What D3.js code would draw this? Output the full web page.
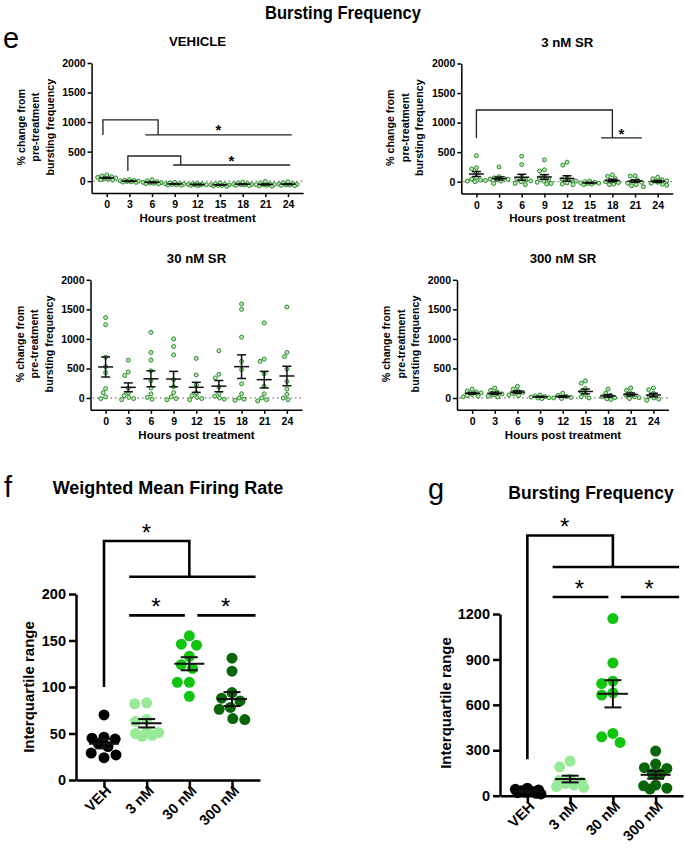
<!DOCTYPE html>
<html><head><meta charset="utf-8">
<script src="https://cdn.jsdelivr.net/npm/d3@7"></script>
<style>
body{margin:0;background:#fff;}
svg{display:block;font-family:"Liberation Sans",Arial,sans-serif;}
</style></head>
<body>
<svg id="c" width="685" height="850"></svg>
<script>
// ---------- DATA ----------
const hours = [0, 3, 6, 9, 12, 15, 18, 21, 24];
const hourTicks = [0, 3, 6, 9, 12, 15, 18, 21, 24];
const eTicks = [0, 500, 1000, 1500, 2000];

const vehPts = [
  [105, 90, 75, 65, 55, 45, 35, 25, 20],
  [25, 15, 10, 5, 0, -5, -10, -15, -20],
  [25, 5, -10, -20, -25, -30, -35, -40, -45],
  [-20, -30, -40, -45, -50, -55, -60, -65, -70],
  [-35, -45, -50, -55, -60, -60, -65, -70, -75],
  [-30, -45, -55, -60, -65, -70, -75, -80, -85],
  [-15, -30, -40, -50, -55, -60, -65, -70, -75],
  [-5, -30, -45, -55, -60, -65, -70, -80, -85],
  [-10, -30, -40, -50, -55, -60, -65, -70, -75]
];
const vehMean = [55, 0, -20, -48, -57, -63, -51, -55, -51];
const vehSem = [9, 5, 7, 5, 4, 5, 6, 8, 6];

const sr3Pts = [
  [440, 235, 215, 150, 70, 45, 30, 20, 10, 0],
  [250, 85, 65, 55, 45, 40, 30, 10, -30],
  [430, 290, 80, 45, 30, 15, 0, -30, -50],
  [370, 200, 180, 90, 60, 40, 10, -10, -30, -40],
  [330, 280, 60, 40, 20, 10, -20, -40, -50],
  [10, 0, -10, -20, -25, -30, -40, -50],
  [115, 90, 50, 20, 0, -15, -40, -50],
  [100, 95, 30, 10, -10, -25, -50, -70, -85],
  [75, 50, 35, 15, -10, -25, -45, -60]
];
const sr3Mean = [130, 55, 75, 80, 55, -20, 20, 10, 5];
const sr3Sem = [42, 25, 50, 40, 45, 8, 20, 20, 18];

const sr30Pts = [
  [1360, 1240, 690, 530, 430, 160, 90, 20, -10],
  [640, 440, 380, 170, 90, 40, 10, -10, -30],
  [1110, 770, 640, 460, 290, 170, 70, 10, -20],
  [1000, 870, 730, 310, 190, 90, 20, -10, -30],
  [670, 390, 220, 90, 40, 10, -10, -30],
  [800, 400, 340, 190, 80, 30, 0, -20],
  [1590, 1500, 1030, 620, 480, 240, 70, 0, -20, -40],
  [1270, 660, 620, 410, 200, 70, 0, -30, -50],
  [1540, 770, 700, 490, 280, 150, 60, 0, -30]
];
const sr30Mean = [525, 180, 325, 320, 180, 200, 530, 310, 372];
const sr30Sem = [170, 75, 135, 130, 85, 95, 200, 140, 165];

const sr300Pts = [
  [150, 120, 100, 85, 60, 40, 30, 20],
  [170, 130, 100, 70, 50, 30, 20],
  [200, 150, 120, 95, 70, 50, 40],
  [50, 35, 25, 15, 5, 0, -10],
  [80, 45, 25, 10, 0, -10],
  [290, 250, 160, 110, 60, 20, 0],
  [150, 80, 45, 20, 5, -15, -25],
  [170, 130, 80, 45, 20, 5, -10],
  [170, 140, 80, 30, 0, -20, -40]
];
const sr300Mean = [80, 80, 100, 20, 25, 110, 35, 60, 50];
const sr300Sem = [15, 20, 20, 8, 13, 40, 22, 25, 30];

const groups = ["VEH", "3 nM", "30 nM", "300 nM"];
const groupColors = ["#000000", "#97ea97", "#10c410", "#0a650a"];

const wmfrTicks = [0, 50, 100, 150, 200];
const wmfrPts = [
  [70, 46, 45, 44, 39, 36, 29, 27, 24],
  [83, 82, 65, 63, 52, 51, 50, 48, 47],
  [155, 146, 145, 133, 124, 120, 105, 105, 90],
  [131, 117, 94, 88, 85, 78, 76, 66, 65]
];
const wmfrMean = [39, 61, 125, 87];
const wmfrSem = [5, 4.5, 7, 7.5];

const bfTicks = [0, 300, 600, 900, 1200];
const bfPts = [
  [50, 42, 38, 33, 28, 24, 20, 16, 12],
  [229, 191, 110, 100, 90, 80, 70, 60, 55],
  [1170, 877, 756, 741, 679, 665, 411, 389, 352],
  [295, 209, 185, 180, 145, 145, 70, 65, 50, 44]
];
const bfMean = [28, 110, 673, 138];
const bfSem = [4, 22, 90, 26];

// ---------- HELPERS ----------
const svg = d3.select("#c");

function swarm(vals, cx, y, r, step, maxOff) {
  const pts = vals.map(v => ({v: v, y: y(v)})).sort((a, b) => a.y - b.y);
  const placed = [];
  const nSteps = Math.floor(maxOff / step);
  for (const p of pts) {
    let best = 0, bestD = -1;
    for (let k = 0; k <= 2 * nSteps; k++) {
      const o = (k % 2 === 0 ? 1 : -1) * Math.ceil(k / 2) * step;
      let dmin = Infinity;
      placed.forEach(q => { dmin = Math.min(dmin, Math.hypot(q.x - (cx + o), q.y - p.y)); });
      if (dmin >= 2 * r + 0.3) { best = o; bestD = Infinity; break; }
      if (dmin > bestD + 0.01) { bestD = dmin; best = o; }
    }
    p.x = cx + best;
    placed.push(p);
  }
  return placed;
}

function starText(g, x, yc, fs, weight) {
  g.append("text").attr("x", x).attr("y", yc + 0.58 * fs)
    .attr("text-anchor", "middle").attr("font-size", fs)
    .attr("font-weight", weight || "normal").text("*");
}

// ---------- TITLES ----------
svg.append("text").attr("x", 343).attr("y", 19).attr("text-anchor", "middle")
  .attr("font-size", 19).attr("font-weight", "bold")
  .attr("textLength", 156).attr("lengthAdjust", "spacingAndGlyphs")
  .text("Bursting Frequency");
svg.append("text").attr("x", 3).attr("y", 48).attr("font-size", 29).text("e");
svg.append("text").attr("x", 4).attr("y", 497).attr("font-size", 29).text("f");
svg.append("text").attr("x", 428).attr("y", 499).attr("font-size", 29).text("g");

// ---------- PANEL E ----------
function panelE(cfg) {
  const g = svg.append("g");
  const x = d3.scaleLinear().domain([-2, 26]).range([cfg.ax, cfg.ax + 211.5]);
  const y = d3.scaleLinear().domain([-200, 2000]).range([cfg.zeroY + 11.8, cfg.zeroY - 118.2]);

  const ya = g.append("g").attr("transform", `translate(${cfg.ax},0)`)
    .call(d3.axisLeft(y).tickValues(eTicks).tickFormat(d3.format("d")).tickSize(4).tickSizeOuter(0).tickPadding(2));
  const xa = g.append("g").attr("transform", `translate(0,${y(-200)})`)
    .call(d3.axisBottom(x).tickValues(hourTicks).tickFormat(d3.format("d")).tickSize(4).tickSizeOuter(0).tickPadding(4));
  [ya, xa].forEach(a => {
    a.selectAll("path,line").attr("stroke", "#000").attr("stroke-width", 1.5);
    a.selectAll("text").attr("font-size", 10.5).attr("font-weight", "bold")
      .attr("fill", "#000").attr("font-family", "Liberation Sans, Arial, sans-serif");
  });

  // zero dotted line
  g.append("line").attr("x1", cfg.ax + 2).attr("x2", cfg.ax + 211).attr("y1", y(0)).attr("y2", y(0))
    .attr("stroke", "#555").attr("stroke-width", 1).attr("stroke-dasharray", "1.5,3");

  g.append("text").attr("x", cfg.ax + 106).attr("y", cfg.zeroY - 135)
    .attr("text-anchor", "middle").attr("font-size", 13.2).attr("font-weight", "bold").text(cfg.title);
  g.append("text").attr("x", cfg.ax + 106).attr("y", cfg.zeroY + 40.5)
    .attr("text-anchor", "middle").attr("font-size", 11.5).attr("font-weight", "bold").text("Hours post treatment");
  const ylab = ["% change from", "pre-treatment", "bursting frequency"];
  ylab.forEach((t, i) => {
    g.append("text").attr("transform", `translate(${cfg.ax - 67 + i * 14.5},${cfg.zeroY - 54}) rotate(-90)`)
      .attr("text-anchor", "middle").attr("font-size", 10.7).attr("font-weight", "bold").text(t);
  });

  hours.forEach((h, i) => {
    const pts = swarm(cfg.pts[i], x(h), y, 2.2, 0.6, 9);
    g.selectAll(null).data(pts).enter().append("circle")
      .attr("cx", d => d.x).attr("cy", d => d.y).attr("r", 2)
      .attr("fill", "#b9e6b4").attr("stroke", "#2e8b2e").attr("stroke-width", 1);
  });
  hours.forEach((h, i) => {
    const cx = x(h), m = cfg.mean[i], s = cfg.sem[i];
    const eb = g.append("g").attr("stroke", "#111").attr("stroke-width", 1.5);
    eb.append("line").attr("x1", cx - 7.5).attr("x2", cx + 7.5).attr("y1", y(m)).attr("y2", y(m));
    eb.append("line").attr("x1", cx).attr("x2", cx).attr("y1", y(m - s)).attr("y2", y(m + s));
    [m - s, m + s].forEach(v => eb.append("line").attr("x1", cx - 4.5).attr("x2", cx + 4.5).attr("y1", y(v)).attr("y2", y(v)));
  });

  (cfg.brackets || []).forEach(b => {
    const path = d3.path();
    path.moveTo(x(b[0]), y(b[2])); path.lineTo(x(b[0]), y(b[3]));
    path.lineTo(x(b[1]), y(b[3])); path.lineTo(x(b[1]), y(b[4]));
    path.moveTo(x(b[5]), y(b[4])); path.lineTo(x(b[6]), y(b[4]));
    g.append("path").attr("d", path.toString()).attr("fill", "none").attr("stroke", "#222").attr("stroke-width", 1.3);
    starText(g, x(b[7]), y(b[8]), 15, "bold");
  });
}

panelE({title: "VEHICLE", ax: 91.6, zeroY: 181.2, pts: vehPts, mean: vehMean, sem: vehSem,
  brackets: [[-0.5, 6.8, 782, 1036, 782, 5.1, 24.5, 14.8, 930],
             [2.8, 9.8, 173, 426, 274, 8.8, 24.3, 16.5, 410]]});
panelE({title: "3 nM SR", ax: 461.3, zeroY: 181.7, pts: sr3Pts, mean: sr3Mean, sem: sr3Sem,
  brackets: [[0, 18, 740, 1213, 740, 16.5, 21.9, 19.2, 875]]});
panelE({title: "30 nM SR", ax: 90.5, zeroY: 398, pts: sr30Pts, mean: sr30Mean, sem: sr30Sem});
panelE({title: "300 nM SR", ax: 457, zeroY: 398, pts: sr300Pts, mean: sr300Mean, sem: sr300Sem});

// ---------- PANELS F / G ----------
function panelFG(cfg) {
  const g = svg.append("g");
  const x = d3.scalePoint().domain(groups).range([cfg.ax, cfg.ax2]).padding(cfg.pad);
  const y = d3.scaleLinear().domain([0, cfg.max]).range([cfg.y0, cfg.yTop]);

  const ya = g.append("g").attr("transform", `translate(${cfg.ax},0)`)
    .call(d3.axisLeft(y).tickValues(cfg.ticks).tickFormat(d3.format("d")).tickSize(7).tickSizeOuter(0).tickPadding(3));
  const xa = g.append("g").attr("transform", `translate(0,${cfg.y0})`)
    .call(d3.axisBottom(x).tickSize(7).tickSizeOuter(0));
  [ya, xa].forEach(a => {
    a.selectAll("path,line").attr("stroke", "#000").attr("stroke-width", 2.5);
    a.selectAll("text").attr("font-size", 14.5).attr("font-weight", "bold")
      .attr("fill", "#000").attr("font-family", "Liberation Sans, Arial, sans-serif");
  });
  xa.selectAll("text").attr("text-anchor", "end").attr("dy", "0.35em")
    .attr("transform", "translate(4,8) rotate(-45)").attr("y", 0).attr("x", 0);

  g.append("text").attr("x", cfg.titleX).attr("y", cfg.titleY).attr("text-anchor", "middle")
    .attr("font-size", cfg.titleSize).attr("font-weight", "bold").text(cfg.title);
  g.append("text").attr("transform", `translate(${cfg.ylabX},${cfg.ylabY}) rotate(-90)`)
    .attr("text-anchor", "middle").attr("font-size", 15).attr("font-weight", "bold").text("Interquartile range");

  groups.forEach((gr, i) => {
    const pts = swarm(cfg.pts[i], x(gr), y, 5.5, 0.8, 14);
    g.selectAll(null).data(pts).enter().append("circle")
      .attr("cx", d => d.x).attr("cy", d => d.y).attr("r", 5.5).attr("fill", groupColors[i]);
  });
  groups.forEach((gr, i) => {
    const cx = x(gr), m = cfg.mean[i], s = cfg.sem[i];
    const eb = g.append("g").attr("stroke", "#111").attr("stroke-width", 2);
    eb.append("line").attr("x1", cx - 15).attr("x2", cx + 15).attr("y1", y(m)).attr("y2", y(m));
    eb.append("line").attr("x1", cx).attr("x2", cx).attr("y1", y(m - s)).attr("y2", y(m + s));
    [m - s, m + s].forEach(v => eb.append("line").attr("x1", cx - 8.5).attr("x2", cx + 8.5).attr("y1", y(v)).attr("y2", y(v)));
  });

  const b = cfg.br;
  const p = d3.path();
  p.moveTo(x(groups[0]), y(b.leftBottom)); p.lineTo(x(groups[0]), y(b.top));
  p.lineTo(x(groups[2]), y(b.top)); p.lineTo(x(groups[2]), y(b.mid));
  p.moveTo(x(groups[1]) - 17.5, y(b.mid)); p.lineTo(x(groups[3]) + 23.5, y(b.mid));
  p.moveTo(x(groups[1]) - 17.5, y(b.low)); p.lineTo(x(groups[2]) - 4.5, y(b.low));
  p.moveTo(x(groups[2]) + 8, y(b.low)); p.lineTo(x(groups[3]) + 23.5, y(b.low));
  g.append("path").attr("d", p.toString()).attr("fill", "none").attr("stroke", "#000").attr("stroke-width", 2.6);
  starText(g, (x(groups[0]) + x(groups[1])) / 2 + cfg.starShift, y(b.top) - 14, 24);
  starText(g, (x(groups[1]) + x(groups[2])) / 2 - 12, y(b.low) - 14, 24);
  starText(g, (x(groups[2]) + x(groups[3])) / 2 + 15, y(b.low) - 14, 24);
}

panelFG({title: "Weighted Mean Firing Rate", titleX: 168, titleY: 494, titleSize: 18,
  ax: 76, ax2: 260, pad: 0.656, y0: 780, yTop: 594, max: 200, ticks: wmfrTicks,
  pts: wmfrPts, mean: wmfrMean, sem: wmfrSem, ylabX: 34, ylabY: 687, starShift: 21,
  br: {leftBottom: 100, top: 257, mid: 218.5, low: 177}});
panelFG({title: "Bursting Frequency", titleX: 591, titleY: 499, titleSize: 17.5,
  ax: 500, ax2: 683, pad: 0.64, y0: 795.7, yTop: 614, max: 1200, ticks: bfTicks,
  pts: bfPts, mean: bfMean, sem: bfSem, ylabX: 451, ylabY: 703, starShift: 16,
  br: {leftBottom: 240, top: 1718, mid: 1510, low: 1312}});
</script>
</body></html>
